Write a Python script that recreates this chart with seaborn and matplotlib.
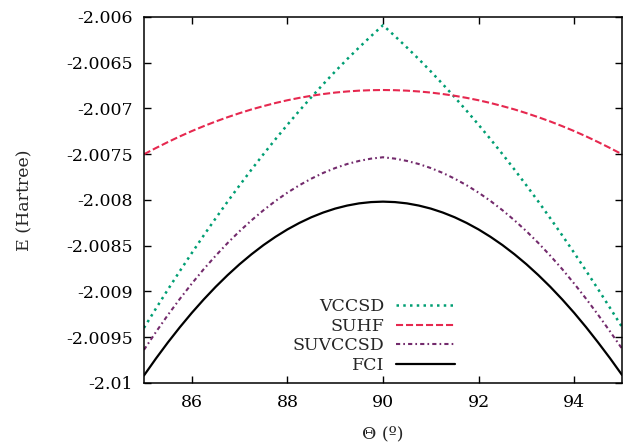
import numpy as np
import pandas as pd
import matplotlib
matplotlib.use("Agg")
import matplotlib.pyplot as plt
import seaborn as sns
from matplotlib.ticker import FuncFormatter

# angle grid (degrees)
theta = [85.0, 85.25, 85.5, 85.75, 86.0, 86.25, 86.5, 86.75, 87.0, 87.25,
         87.5, 87.75, 88.0, 88.25, 88.5, 88.75, 89.0, 89.25, 89.5, 89.75,
         90.0,
         90.25, 90.5, 90.75, 91.0, 91.25, 91.5, 91.75, 92.0, 92.25, 92.5,
         92.75, 93.0, 93.25, 93.5, 93.75, 94.0, 94.25, 94.5, 94.75, 95.0]

# energies (Hartree)
vccsd = [-2.009398, -2.009186, -2.008979, -2.008777, -2.008580, -2.008387,
         -2.008200, -2.008017, -2.007840, -2.007667, -2.007499, -2.007336,
         -2.007178, -2.007025, -2.006877, -2.006734, -2.006595, -2.006461,
         -2.006333, -2.006209,
         -2.006090,
         -2.006209, -2.006333, -2.006461, -2.006595, -2.006734, -2.006877,
         -2.007025, -2.007178, -2.007336, -2.007499, -2.007667, -2.007840,
         -2.008017, -2.008200, -2.008387, -2.008578, -2.008775, -2.008975,
         -2.009180, -2.009388]
suhf = [-2.007500, -2.007432, -2.007367, -2.007305, -2.007247, -2.007193,
        -2.007142, -2.007095, -2.007051, -2.007010, -2.006974, -2.006940,
        -2.006910, -2.006884, -2.006861, -2.006842, -2.006826, -2.006814,
        -2.006805, -2.006800,
        -2.006798,
        -2.006800, -2.006805, -2.006814, -2.006826, -2.006842, -2.006861,
        -2.006884, -2.006910, -2.006940, -2.006974, -2.007010, -2.007051,
        -2.007095, -2.007142, -2.007193, -2.007247, -2.007305, -2.007367,
        -2.007432, -2.007500]
suvccsd = [-2.009638, -2.009443, -2.009257, -2.009081, -2.008914, -2.008756,
           -2.008609, -2.008470, -2.008341, -2.008222, -2.008112, -2.008011,
           -2.007920, -2.007839, -2.007767, -2.007704, -2.007651, -2.007607,
           -2.007573, -2.007548,
           -2.007533,
           -2.007548, -2.007573, -2.007607, -2.007651, -2.007704, -2.007767,
           -2.007839, -2.007920, -2.008011, -2.008112, -2.008222, -2.008341,
           -2.008470, -2.008609, -2.008756, -2.008914, -2.009080, -2.009255,
           -2.009437, -2.009625]
fci = [-2.009918, -2.009733, -2.009557, -2.009391, -2.009234, -2.009087,
       -2.008949, -2.008821, -2.008702, -2.008593, -2.008493, -2.008403,
       -2.008322, -2.008251, -2.008189, -2.008137, -2.008094, -2.008061,
       -2.008037, -2.008023,
       -2.008018,
       -2.008023, -2.008037, -2.008061, -2.008094, -2.008137, -2.008189,
       -2.008251, -2.008322, -2.008403, -2.008493, -2.008593, -2.008702,
       -2.008821, -2.008949, -2.009087, -2.009234, -2.009391, -2.009557,
       -2.009730, -2.009912]

labels = ["VCCSD", "SUHF", "SUVCCSD", "FCI"]
series = [vccsd, suhf, suvccsd, fci]
colors = ["#009e73", "#e6284f", "#732a6c", "black"]
styles = [(0, (1, 1.7)), (0, (3.4, 1.4)), (0, (2.0, 1.5, 0.8, 1.5)), "-"]
widths = [1.8, 1.5, 1.5, 1.6]

xticks = [86, 88, 90, 92, 94]
yticks = [-2.01, -2.0095, -2.009, -2.0085, -2.008, -2.0075, -2.007, -2.0065, -2.006]

sns.set_style("ticks")
plt.rcParams['font.family'] = ['DejaVu Serif']
plt.rcParams['axes.unicode_minus'] = False

fig = plt.figure(figsize=(6.26, 4.46), dpi=100)
ax = fig.add_axes([0.230, 0.1413, 0.7636, 0.8206])

for lab, vals, col, ls, lw in zip(labels, series, colors, styles, widths):
    df = pd.DataFrame({"theta": theta, "E": vals})
    sns.lineplot(data=df, x="theta", y="E", ax=ax, color=col, linestyle=ls,
                 linewidth=lw, label=lab)

ax.set_xlim(85, 95)
ax.set_ylim(-2.01, -2.006)
ax.set_xticks(xticks)
ax.set_yticks(yticks)
ax.yaxis.set_major_formatter(FuncFormatter(lambda v, p: f"{v:g}"))
ax.tick_params(direction="in", length=5, width=1, labelsize=12.5, pad=8,
               top=True, right=True, colors="black")
for sp in ax.spines.values():
    sp.set_linewidth(1.1)
    sp.set_color("black")

ax.set_xlabel("Θ (º)", fontsize=12.5)
ax.set_ylabel("E (Hartree)", fontsize=12.5)
ax.xaxis.set_label_coords(0.5, -0.115)
ax.yaxis.set_label_coords(-0.232, 0.5)

ax.legend(loc="lower right", bbox_to_anchor=(0.651, 0.025), frameon=False,
          markerfirst=False, fontsize=12.5, handlelength=3.4, handletextpad=0.7,
          labelspacing=0.15, borderpad=0, borderaxespad=0)

fig.savefig("out.png", dpi=100)
